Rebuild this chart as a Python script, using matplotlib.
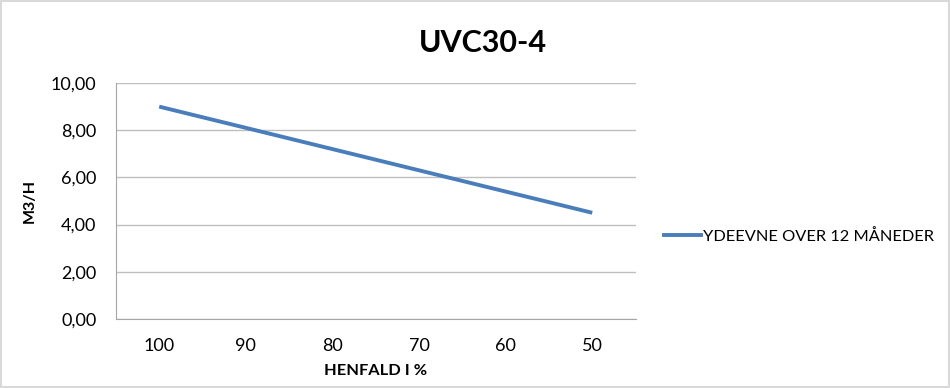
import matplotlib
matplotlib.use("Agg")
import matplotlib.pyplot as plt
from matplotlib.lines import Line2D

categories = ["100", "90", "80", "70", "60", "50"]
values = [9.0, 8.1, 7.2, 6.3, 5.4, 4.5]
series_name = "YDEEVNE OVER 12 MÅNEDER"
yticks = [0, 2, 4, 6, 8, 10]

plt.rcParams['font.family'] = ['Lato', 'DejaVu Sans']

fig = plt.figure(figsize=(9.5, 3.88), dpi=100)
fig.patch.set_facecolor('white')
# light outer border
fig.patches.append(plt.Rectangle((0.001, 0.003), 0.998, 0.994, transform=fig.transFigure,
                                 fill=False, edgecolor='#d9d9d9', linewidth=1.5))

ax = fig.add_axes([0.122, 0.178, 0.547, 0.608])
x = list(range(len(categories)))
ax.plot(x, values, color='#4a7ebb', linewidth=2.8, solid_capstyle='butt')
ax.set_xlim(-0.5, len(categories) - 0.5)
ax.set_ylim(0, 10)
ax.set_xticks(x)
ax.set_xticklabels(categories)
ax.set_yticks(yticks)
ax.set_yticklabels([f"{v:.2f}".replace('.', ',') for v in yticks])
ax.tick_params(axis='both', length=0, labelsize=13, colors='black')
ax.tick_params(axis='x', pad=14)
ax.tick_params(axis='y', pad=14)
ax.yaxis.grid(True, color='#bfbfbf', linewidth=1)
ax.set_axisbelow(True)
for s in ['top', 'right']:
    ax.spines[s].set_visible(False)
ax.spines['left'].set_color('#a6a6a6')
ax.spines['bottom'].set_color('#a6a6a6')
ax.set_ylabel("M3/H", fontsize=11.5, fontweight='bold', labelpad=10)
ax.set_xlabel("HENFALD I %", fontsize=11.8, fontweight='bold', labelpad=7)

fig.text(0.508, 0.89, "UVC30-4", ha='center', va='center', fontsize=22, fontweight='bold')

handle = Line2D([0], [0], color='#4a7ebb', linewidth=2.8)
fig.legend([handle], [series_name], loc='center left', bbox_to_anchor=(0.683, 0.39),
           frameon=False, fontsize=11.8, handlelength=2.3, handletextpad=0.1)

fig.savefig("out.png", dpi=100)
